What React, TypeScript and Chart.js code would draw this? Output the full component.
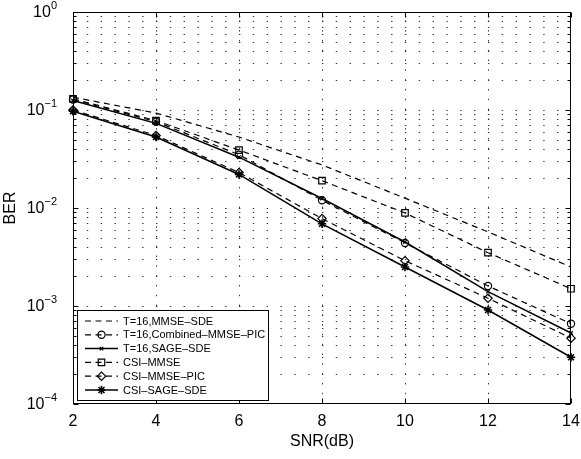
import { useEffect, useRef } from 'react';
import { Chart, registerables } from 'chart.js';
import { drawPoint } from 'chart.js/helpers';

Chart.register(...registerables);

// SNR points (dB)
const snr = [2, 4, 6, 8, 10, 12, 14];

// BER curves
const mmseSdeT16 = [0.135, 0.093, 0.053, 0.0275, 0.0126, 0.0057, 0.0025];
const combinedMmsePicT16 = [0.128, 0.076, 0.035, 0.012, 0.0044, 0.0016, 0.00066];
const sageSdeT16 = [0.125, 0.073, 0.033, 0.0125, 0.0045, 0.0014, 0.00053];
const csiMmse = [0.13, 0.078, 0.039, 0.019, 0.0089, 0.0035, 0.0015];
const csiMmsePic = [0.1, 0.055, 0.023, 0.0078, 0.0029, 0.0012, 0.00047];
const csiSageSde = [0.097, 0.053, 0.022, 0.0069, 0.0025, 0.00091, 0.0003];

const seriesLabels = [
  'T=16,MMSE–SDE',
  'T=16,Combined–MMSE–PIC',
  'T=16,SAGE–SDE',
  'CSI–MMSE',
  'CSI–MMSE–PIC',
  'CSI–SAGE–SDE',
];

// axis ticks
const xTicks = [2, 4, 6, 8, 10, 12, 14];
const yDecades = [0, -1, -2, -3, -4];
const logSteps = [1, 2, 3, 4, 5, 6, 7, 8, 9];

const FONT = '"Liberation Sans", Arial, Helvetica, sans-serif';
const DASH = [6, 4.5];

const styles = [
  { values: mmseSdeT16, dash: DASH, width: 1.2, point: 'circle', radius: 0 },
  { values: combinedMmsePicT16, dash: DASH, width: 1.2, point: 'circle', radius: 3.6 },
  { values: sageSdeT16, dash: [], width: 1.5, point: 'crossRot', radius: 2.5 },
  { values: csiMmse, dash: DASH, width: 1.2, point: 'rect', radius: 4.6 },
  { values: csiMmsePic, dash: DASH, width: 1.2, point: 'rectRot', radius: 4.2 },
  { values: csiSageSde, dash: [], width: 1.5, point: 'star', radius: 4.2 },
];

const framePlugin = {
  id: 'matlabFrame',
  beforeDatasetsDraw(chart: any) {
    const { ctx, chartArea: a, scales } = chart;
    const x = scales.x;
    const y = scales.y;
    ctx.save();
    ctx.strokeStyle = '#333';
    ctx.lineWidth = 1;
    // dotted log grid
    ctx.setLineDash([1.4, 12.43]);
    for (const d of yDecades) {
      for (const m of logSteps) {
        const v = m * Math.pow(10, d - 1);
        if (v <= 1e-4 || v >= 1) continue;
        const py = Math.round(y.getPixelForValue(v)) + 0.5;
        ctx.beginPath();
        ctx.moveTo(a.left, py);
        ctx.lineTo(a.right, py);
        ctx.stroke();
      }
    }
    // dotted vertical grid
    ctx.setLineDash([1.4, 8.4]);
    for (const t of xTicks) {
      if (t === xTicks[0] || t === xTicks[xTicks.length - 1]) continue;
      const px = Math.round(x.getPixelForValue(t)) + 0.5;
      ctx.beginPath();
      ctx.moveTo(px, a.bottom);
      ctx.lineTo(px, a.top);
      ctx.stroke();
    }
    ctx.restore();
  },
  afterDatasetsDraw(chart: any) {
    const { ctx, chartArea: a, scales } = chart;
    const x = scales.x;
    const y = scales.y;
    ctx.save();
    ctx.strokeStyle = '#000';
    ctx.fillStyle = '#000';
    ctx.lineWidth = 1;
    ctx.setLineDash([]);

    // box
    const L = Math.round(a.left) + 0.5;
    const R = Math.round(a.right) - 0.5;
    const T = Math.round(a.top) + 0.5;
    const B = Math.round(a.bottom) - 0.5;
    ctx.strokeRect(L, T, R - L, B - T);

    // inward ticks
    ctx.beginPath();
    for (const t of xTicks) {
      const px = Math.round(x.getPixelForValue(t)) + 0.5;
      ctx.moveTo(px, B); ctx.lineTo(px, B - 5);
      ctx.moveTo(px, T); ctx.lineTo(px, T + 5);
    }
    for (const d of yDecades) {
      for (const m of logSteps) {
        const v = m * Math.pow(10, d - 1);
        if (v < 1e-4 || v > 1) continue;
        const len = m === 1 ? 5 : 3;
        const py = Math.round(y.getPixelForValue(v)) + 0.5;
        ctx.moveTo(L, py); ctx.lineTo(L + len, py);
        ctx.moveTo(R, py); ctx.lineTo(R - len, py);
      }
    }
    ctx.stroke();

    // x tick labels
    ctx.font = `16px ${FONT}`;
    ctx.textAlign = 'center';
    ctx.textBaseline = 'middle';
    for (const t of xTicks) {
      ctx.fillText(String(t), x.getPixelForValue(t), a.bottom + 18);
    }
    // y tick labels 10^k
    for (const d of yDecades) {
      const py = y.getPixelForValue(Math.pow(10, d));
      const exp = d === 0 ? '0' : '−' + String(-d);
      ctx.font = `11px ${FONT}`;
      const ew = ctx.measureText(exp).width;
      ctx.textAlign = 'left';
      ctx.textBaseline = 'middle';
      const right = 57;
      ctx.fillText(exp, right - ew, py - 6);
      ctx.font = `16px ${FONT}`;
      ctx.textAlign = 'right';
      ctx.fillText('10', right - ew, py + 1);
    }
    // axis titles
    ctx.font = `16px ${FONT}`;
    ctx.textAlign = 'center';
    ctx.textBaseline = 'middle';
    ctx.fillText('SNR(dB)', (a.left + a.right) / 2, a.bottom + 38);
    ctx.save();
    ctx.translate(11, (a.top + a.bottom) / 2);
    ctx.rotate(-Math.PI / 2);
    ctx.fillText('BER', 0, 0);
    ctx.restore();

    // legend
    const bx = 77.5, by = 310.5, bw = 191, bh = 90;
    ctx.fillStyle = '#fff';
    ctx.fillRect(bx, by, bw, bh);
    ctx.strokeStyle = '#000';
    ctx.strokeRect(bx, by, bw, bh);
    ctx.font = `11px ${FONT}`;
    ctx.textAlign = 'left';
    ctx.textBaseline = 'middle';
    chart.data.datasets.forEach((ds: any, i: number) => {
      const ly = 321 + i * 13.8;
      ctx.save();
      ctx.strokeStyle = '#000';
      ctx.lineWidth = ds.borderWidth;
      ctx.setLineDash(ds.borderDash || []);
      ctx.beginPath();
      ctx.moveTo(85, ly);
      ctx.lineTo(118, ly);
      ctx.stroke();
      ctx.setLineDash([]);
      if (ds.pointRadius > 0) {
        ctx.lineWidth = ds.pointBorderWidth;
        ctx.strokeStyle = '#000';
        ctx.fillStyle = 'rgba(0,0,0,0)';
        drawPoint(ctx, { pointStyle: ds.pointStyle, radius: ds.pointRadius, rotation: 0, borderWidth: ds.pointBorderWidth }, 101.5, ly);
      }
      ctx.restore();
      ctx.fillStyle = '#000';
      ctx.fillText(ds.label, 123, ly + 0.5);
    });

    ctx.restore();
  },
};

export default function App() {
  const ref = useRef<HTMLCanvasElement | null>(null);

  useEffect(() => {
    const canvas = ref.current;
    if (!canvas) return;
    const chart = new Chart(canvas, {
      type: 'line',
      data: {
        datasets: styles.map((s, i) => ({
          label: seriesLabels[i],
          data: snr.map((v, k) => ({ x: v, y: s.values[k] })),
          borderColor: '#000',
          borderWidth: s.width,
          borderDash: s.dash,
          pointStyle: s.point as any,
          pointRadius: s.radius,
          pointBorderColor: '#000',
          pointBackgroundColor: 'rgba(0,0,0,0)',
          pointBorderWidth: s.point === 'star' ? 1.6 : 1.2,
          tension: 0,
          fill: false,
          clip: false as any,
        })),
      },
      options: {
        animation: false,
        responsive: false,
        maintainAspectRatio: false,
        devicePixelRatio: 1,
        layout: { padding: { left: 73, right: 10, top: 12, bottom: 55 } },
        plugins: { legend: { display: false }, tooltip: { enabled: false } },
        scales: {
          x: { type: 'linear', min: 2, max: 14, display: false },
          y: { type: 'logarithmic', min: 1e-4, max: 1, display: false },
        },
      },
      plugins: [framePlugin],
    });
    return () => chart.destroy();
  }, []);

  return (
    <div style={{ position: 'fixed', left: 0, top: 0, width: 581, height: 459, background: '#fff' }}>
      <canvas ref={ref} width={581} height={459} style={{ width: 581, height: 459 }} />
    </div>
  );
}
